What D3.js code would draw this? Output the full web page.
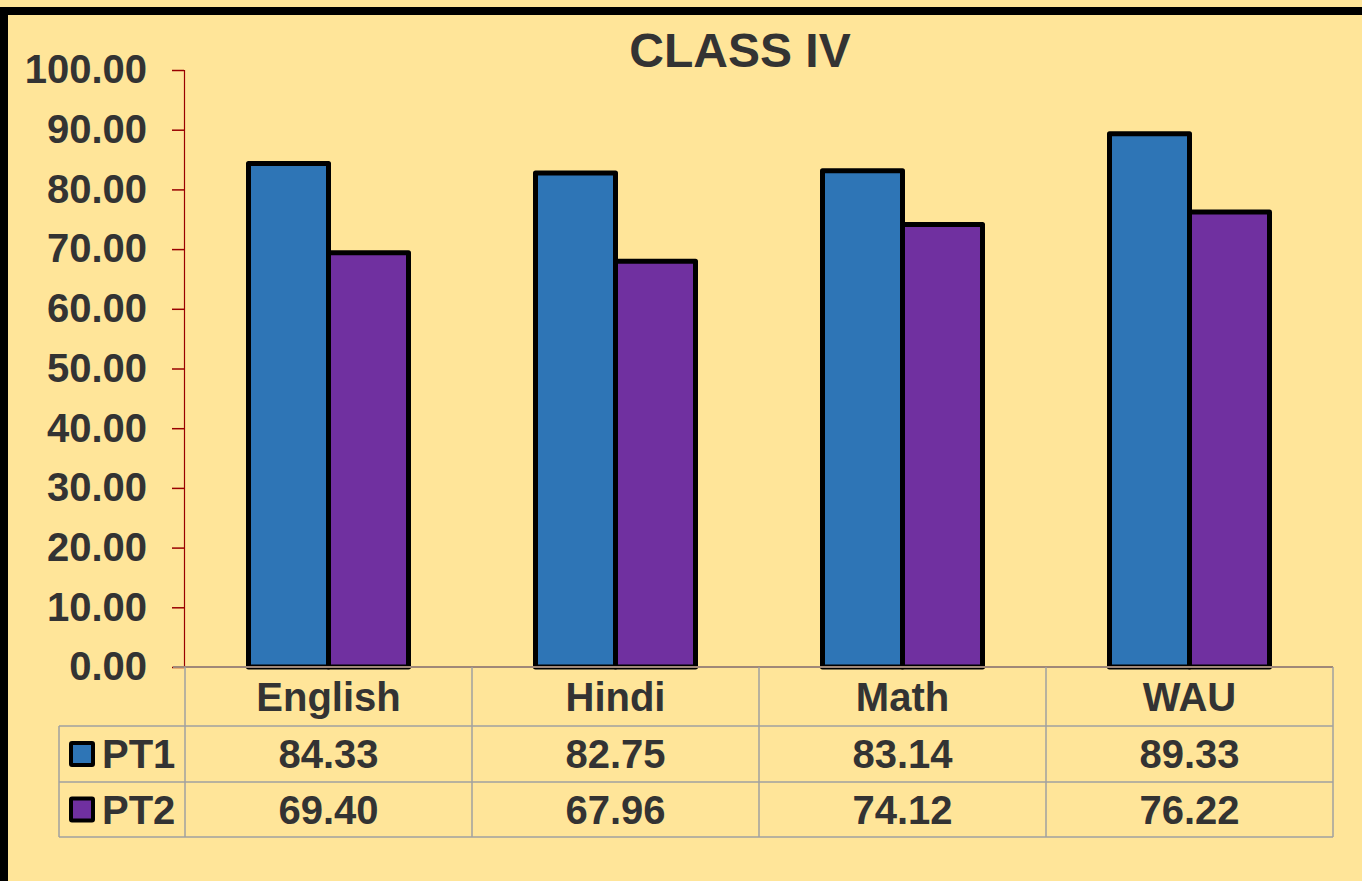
<!DOCTYPE html>
<html><head><meta charset="utf-8">
<script src="https://cdn.jsdelivr.net/npm/d3@7"></script>
<style>html,body{margin:0;padding:0;background:#FFE599;overflow:hidden}</style>
</head><body>
<script>
const categories = ["English", "Hindi", "Math", "WAU"];
const seriesNames = ["PT1", "PT2"];
const pt1 = [84.33, 82.75, 83.14, 89.33];
const pt2 = [69.40, 67.96, 74.12, 76.22];
const yTicks = [0, 10, 20, 30, 40, 50, 60, 70, 80, 90, 100];
const colors = ["#2E75B6", "#7030A0"];
const title = "CLASS IV";

(function draw() {
const W = 1362, H = 881;
const svg = d3.select("body").append("svg").attr("width", W).attr("height", H)
  .style("font-family", "'Liberation Sans', Arial, sans-serif");
svg.append("rect").attr("width", W).attr("height", H).attr("fill", "#FFE599");
// outer frame
svg.append("rect").attr("x", 4).attr("y", 11).attr("width", W + 20).attr("height", H + 20)
  .attr("fill", "#FFE599").attr("stroke", "#000").attr("stroke-width", 8);

const mLeft = 185, mRight = 1333, mTop = 70, mBottom = 667;
const y = d3.scaleLinear().domain([0, 100]).range([mBottom, mTop]);
const x0 = d3.scaleBand().domain(categories).range([mLeft, mRight]).padding(0);
const bw = x0.bandwidth();
const x1 = d3.scaleBand().domain(seriesNames).range([63.5, bw - 63.5]).padding(0);
const series = [pt1, pt2];
const textColor = "#333333";

// title
svg.append("text").attr("x", 740).attr("y", 67).attr("text-anchor", "middle")
  .attr("font-size", 48).attr("font-weight", "bold").attr("fill", textColor).text(title);

// y axis
const yAxis = d3.axisLeft(y).tickValues(yTicks).tickSize(12).tickPadding(25)
  .tickFormat(d3.format(".2f"));
const ga = svg.append("g").attr("transform", `translate(${mLeft - 1},0)`).call(yAxis);
ga.select(".domain").attr("stroke", "#990000").attr("stroke-width", 1.2);
ga.selectAll(".tick line").attr("stroke", "#990000").attr("stroke-width", 1.5);
ga.selectAll(".tick text").attr("font-size", 40).attr("font-weight", "bold")
  .attr("fill", textColor).attr("font-family", "'Liberation Sans', Arial, sans-serif");

// bars
const groups = svg.append("g").selectAll("g").data(categories).join("g")
  .attr("transform", d => `translate(${x0(d)},0)`);
groups.selectAll("rect").data((c, i) => seriesNames.map((s, j) => ({s, j, v: series[j][i]})))
  .join("rect")
  .attr("x", d => x1(d.s)).attr("width", x1.bandwidth())
  .attr("y", d => y(d.v)).attr("height", d => y(0) - y(d.v))
  .attr("fill", d => colors[d.j]).attr("stroke", "#000").attr("stroke-width", 5)
  .attr("stroke-linejoin", "round");

// baseline
svg.append("line").attr("x1", mLeft - 12).attr("x2", mRight).attr("y1", mBottom).attr("y2", mBottom)
  .attr("stroke", "#A08878").attr("stroke-width", 2);

// data table
const rowY = [mBottom, 726, 782, 837];
const tableLeft = 59;
const gridColor = "#A0A0A0";
const tg = svg.append("g");
[726, 782, 837].forEach(yy => tg.append("line").attr("x1", tableLeft).attr("x2", mRight)
  .attr("y1", yy).attr("y2", yy).attr("stroke", gridColor).attr("stroke-width", 1.5));
tg.append("line").attr("x1", tableLeft).attr("x2", tableLeft).attr("y1", 726).attr("y2", 837)
  .attr("stroke", gridColor).attr("stroke-width", 1.5);
categories.concat(["_end"]).forEach((c, i) => {
  const xx = mLeft + i * bw;
  tg.append("line").attr("x1", xx).attr("x2", xx).attr("y1", mBottom).attr("y2", 837)
    .attr("stroke", gridColor).attr("stroke-width", 1.5);
});
// category labels
tg.selectAll("text.cat").data(categories).join("text").attr("class", "cat")
  .attr("x", d => x0(d) + bw / 2).attr("y", (rowY[0] + rowY[1]) / 2 + 14)
  .attr("text-anchor", "middle").attr("font-size", 40).attr("font-weight", "bold")
  .attr("fill", textColor).text(d => d);
// values
series.forEach((vals, j) => {
  const cy = (rowY[j + 1] + rowY[j + 2]) / 2 + 14;
  tg.selectAll("text.v" + j).data(vals).join("text").attr("class", "v" + j)
    .attr("x", (d, i) => x0(categories[i]) + bw / 2).attr("y", cy)
    .attr("text-anchor", "middle").attr("font-size", 40).attr("font-weight", "bold")
    .attr("fill", textColor).text(d => d3.format(".2f")(d));
  // legend key
  const my = (rowY[j + 1] + rowY[j + 2]) / 2;
  tg.append("rect").attr("x", 71).attr("y", my - 11).attr("width", 22).attr("height", 22)
    .attr("fill", colors[j]).attr("stroke", "#000").attr("stroke-width", 4).attr("rx", 1);
  tg.append("text").attr("x", 102).attr("y", cy).attr("font-size", 40).attr("font-weight", "bold")
    .attr("fill", textColor).text(seriesNames[j]);
});
})();
</script>
</body></html>
